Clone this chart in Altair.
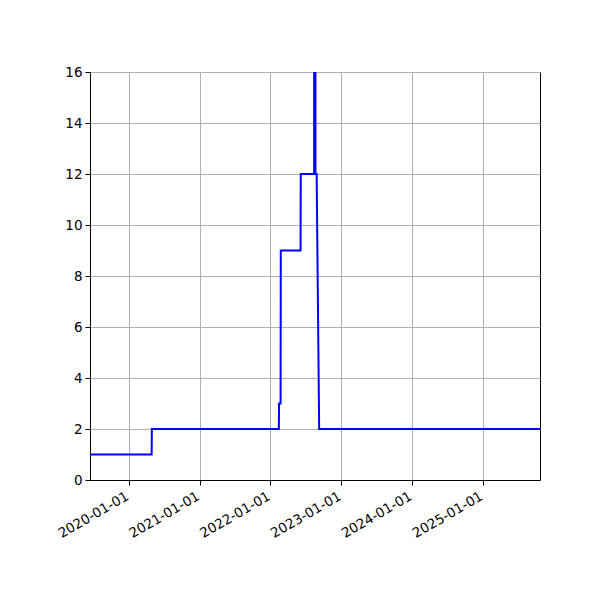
import altair as alt
import pandas as pd

dates = [
    "2019-06-16", "2020-04-29", "2020-04-30",
    "2022-02-14", "2022-02-15", "2022-02-23", "2022-02-24",
    "2022-06-06", "2022-06-07",
    "2022-08-15", "2022-08-16", "2022-08-21", "2022-08-22",
    "2022-08-28", "2022-09-10", "2025-10-23",
]
values = [
    1, 1, 2,
    2, 3, 3, 9,
    9, 12,
    12, 40, 40, 12,
    12, 2, 2,
]
tick_years = [2020, 2021, 2022, 2023, 2024, 2025]
y_ticks = [0, 2, 4, 6, 8, 10, 12, 14, 16]

df = pd.DataFrame({"date": dates, "value": values})

font = "DejaVu Sans"

chart = (
    alt.Chart(df)
    .mark_line(color="#0000ff", strokeWidth=2, clip=True)
    .encode(
        x=alt.X(
            "date:T",
            title=None,
            scale=alt.Scale(
                type="utc",
                domain=[
                    alt.DateTime(year=2019, month=6, date=16, utc=True),
                    alt.DateTime(year=2025, month=10, date=23, utc=True),
                ],
                nice=False,
            ),
            axis=alt.Axis(
                values=[alt.DateTime(year=y, month=1, date=1, utc=True) for y in tick_years],
                labelExpr="utcFormat(datum.value, '%Y-%m-%d')",
                labelAngle=-30,
                labelAlign="right",
                labelBaseline="top",
                labelPadding=4,
                labelOffset=-5,
                labelOverlap=False,
                labelBound=False,
                labelFlush=False,
            ),
        ),
        y=alt.Y(
            "value:Q",
            title=None,
            scale=alt.Scale(domain=[0, 16], nice=False, zero=True),
            axis=alt.Axis(values=y_ticks, labelPadding=3),
        ),
    )
    .properties(
        width=450,
        height=408,
        background="white",
        autosize=alt.AutoSizeParams(type="none"),
        padding={"left": 82, "top": 64, "right": 50, "bottom": 100},
    )
    .configure_view(stroke="black", strokeWidth=1)
    .configure_axis(
        grid=True,
        gridColor="#b0b0b0",
        gridWidth=1,
        gridOpacity=1,
        domainColor="black",
        domainWidth=1,
        tickColor="black",
        tickSize=5,
        tickWidth=1,
        labelFont=font,
        labelFontSize=13.5,
        labelColor="black",
    )
)

chart.save("out.html", embed_options={"renderer": "svg", "actions": False})
